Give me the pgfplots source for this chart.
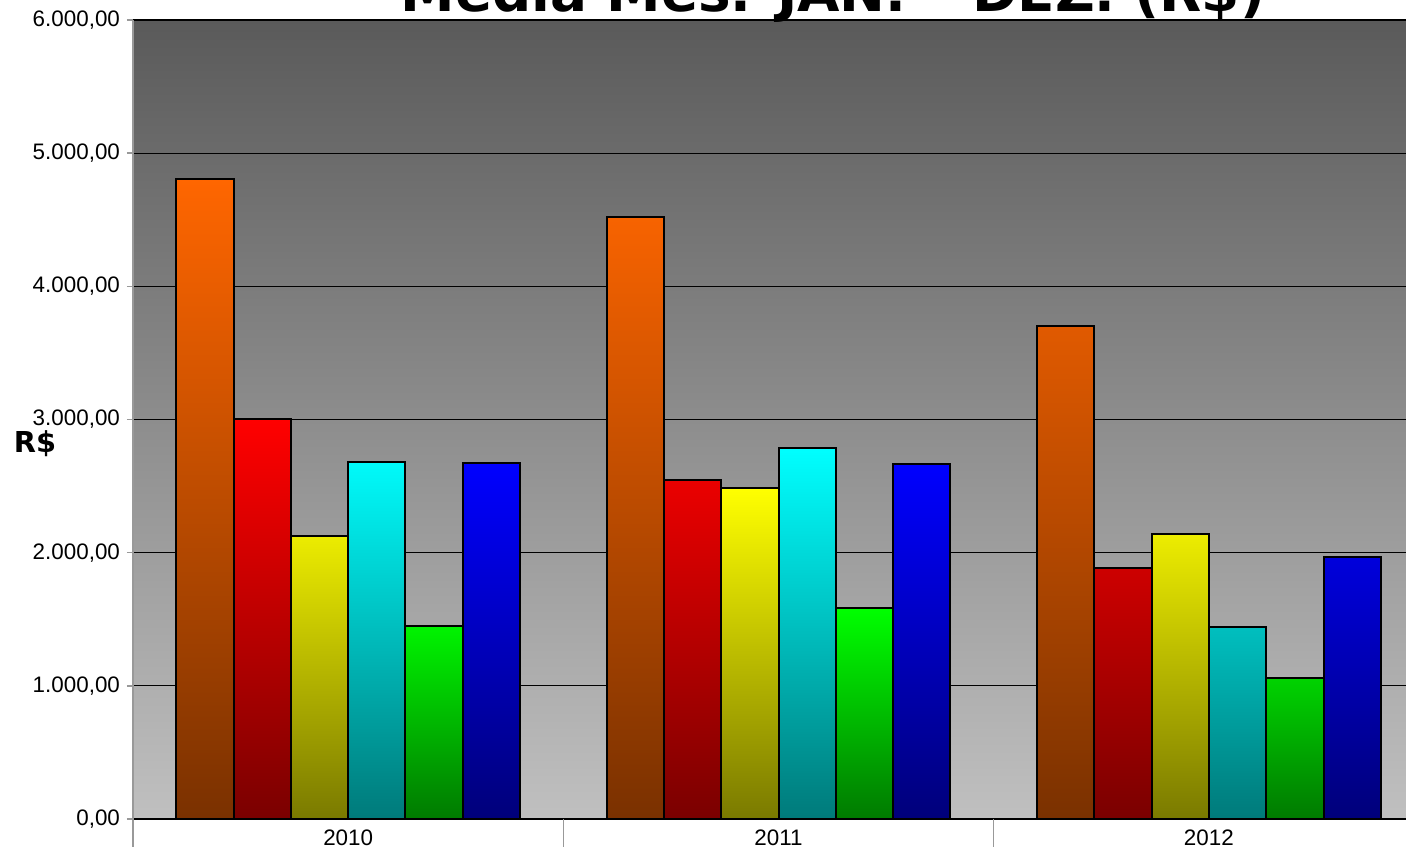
\documentclass[border=0pt]{standalone}
\usepackage{pgfplots}
\usepackage{pgfplotstable}
\pgfplotsset{compat=1.18}
\usepackage{fontspec}
\setmainfont{Liberation Sans}
\newfontfamily\djb{DejaVu Sans Bold}
\definecolor{bgtop}{HTML}{5A5A5A}
\definecolor{bgbot}{HTML}{C0C0C0}
\definecolor{orT}{HTML}{FF6600}\definecolor{orB}{HTML}{7A3100}
\definecolor{reT}{HTML}{FF0000}\definecolor{reB}{HTML}{7A0000}
\definecolor{yeT}{HTML}{FFFF00}\definecolor{yeB}{HTML}{7A7A00}
\definecolor{cyT}{HTML}{00FFFF}\definecolor{cyB}{HTML}{007A7A}
\definecolor{grT}{HTML}{00FF00}\definecolor{grB}{HTML}{007A00}
\definecolor{blT}{HTML}{0000FF}\definecolor{blB}{HTML}{00007A}
\pgfplotstableread{
x a b c d e f
0 4806 3004 2125 2681 1449 2673
1 4521 2546 2486 2786 1584 2666
2 3702 1885 2140 1442 1059 1967
}\data
\pgfplotsset{
  gbar/.style n args={2}{draw=black, line width=1pt, top color=#1, middle color=#1!62!#2, bottom color=#2},
}
\begin{document}
\begin{tikzpicture}
\begin{axis}[
  at={(0,0)}, anchor=south west,
  scale only axis, width=636.5pt, height=399.5pt,
  xmin=-0.5, xmax=2.458, ymin=0, ymax=6000,
  ybar=0pt, bar width=28.65pt,
  axis background/.style={shade, top color=bgtop, bottom color=bgbot},
  axis x line*=bottom, axis y line*=left,
  x axis line style={-, black, line width=1pt},
  y axis line style={-, gray!80, line width=0.75pt},
  xtick={0,1,2}, xticklabels={2010,2011,2012},
  xtick style={draw=none},
  extra x ticks={-0.5,0.5,1.5},
  extra x tick labels={},
  extra x tick style={grid=none, major tick length=14pt, tick align=outside,
     xtick style={draw=gray!80, line width=0.75pt}},
  ytick={0,1000,...,6000},
  ytick style={draw=gray!80, line width=0.75pt},
  major tick length=3pt, tick align=outside,
  ymajorgrids, major grid style={black, line width=0.6pt},
  scaled y ticks=false,
  yticklabel style={/pgf/number format/.cd, fixed, fixed zerofill, precision=2, 1000 sep={.}, dec sep={,}, assume math mode=true},
  ticklabel style={font=\fontsize{11.2}{13}\selectfont},
  xticklabel style={yshift=1pt},
  clip=false,
]
\addplot[gbar={orT}{orB}] table[x=x,y=a]{\data};
\addplot[gbar={reT}{reB}] table[x=x,y=b]{\data};
\addplot[gbar={yeT}{yeB}] table[x=x,y=c]{\data};
\addplot[gbar={cyT}{cyB}] table[x=x,y=d]{\data};
\addplot[gbar={grT}{grB}] table[x=x,y=e]{\data};
\addplot[gbar={blT}{blB}] table[x=x,y=f]{\data};
\end{axis}
\node[anchor=base, inner sep=0pt, font=\djb\fontsize{27.4}{30}\selectfont] at (350pt,403.5pt) {Média Mes. JAN. – DEZ. (R\$)};
\node[anchor=base, inner sep=0pt, font=\djb\fontsize{14.4}{16}\selectfont] at (-49pt,183pt) {R\$};
\pgfresetboundingbox
\useasboundingbox (-66.5pt,-13.5pt) rectangle (636.5pt,409.5pt);
\end{tikzpicture}
\end{document}
